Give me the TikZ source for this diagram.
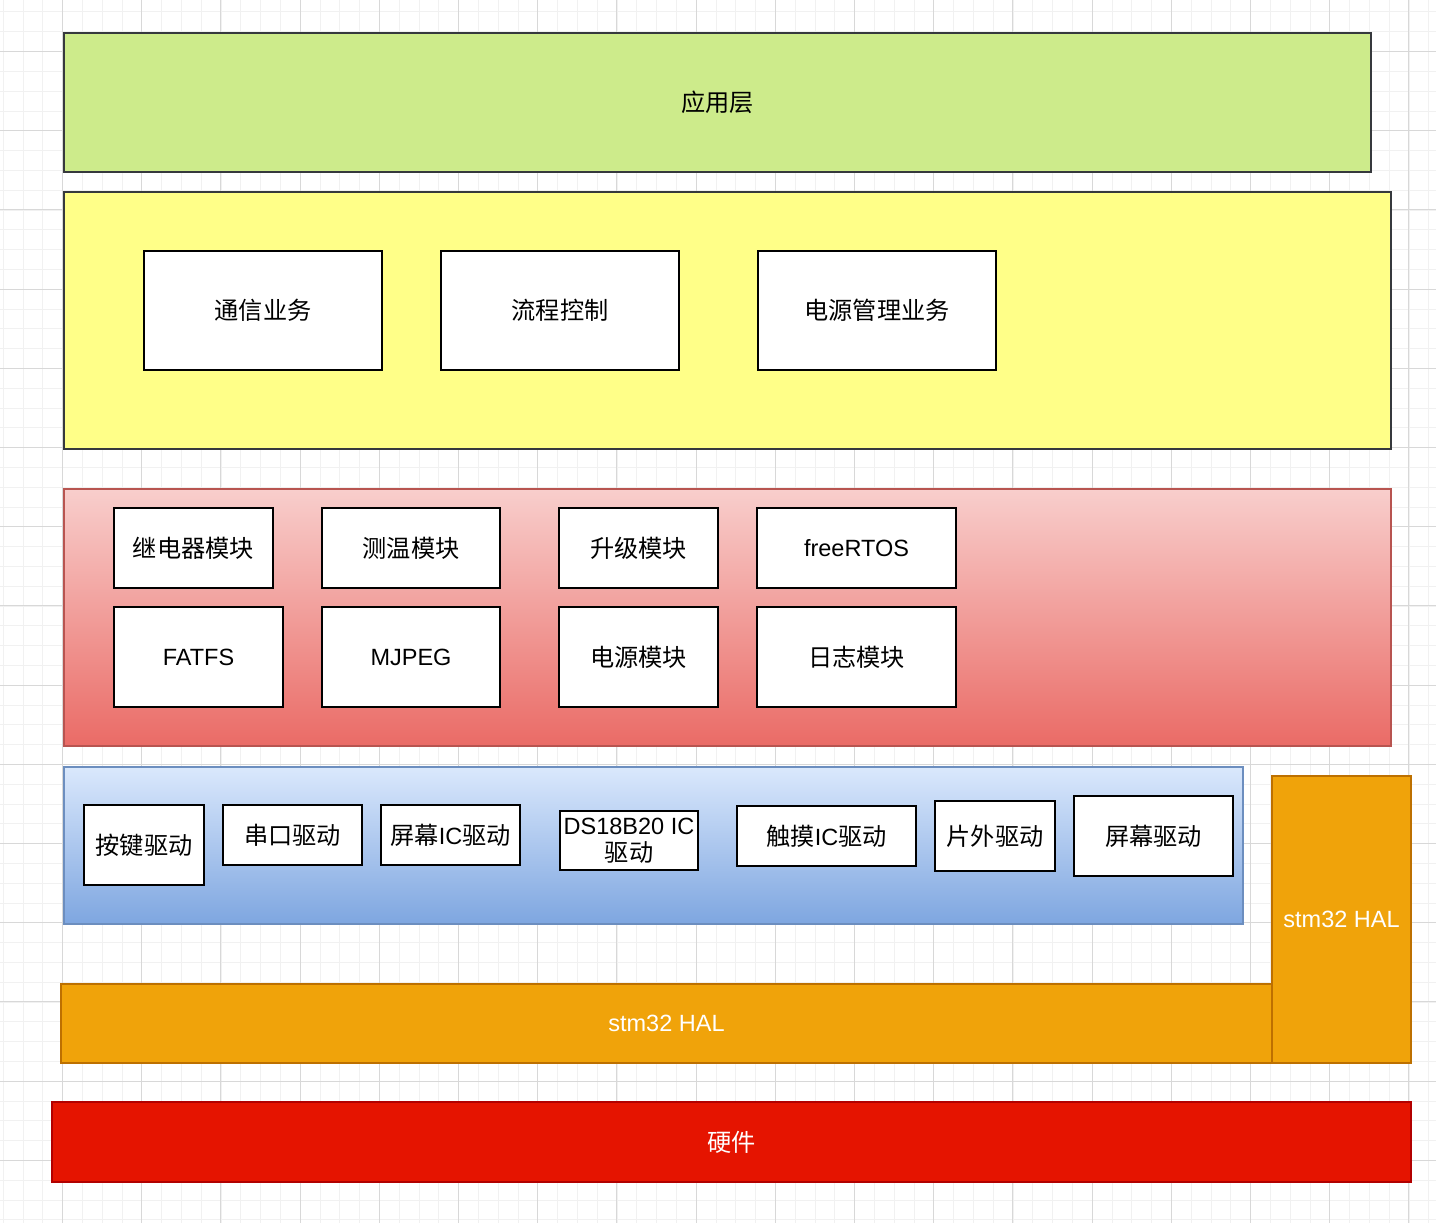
\documentclass[tikz,border=0pt]{standalone}
\usepackage{fontspec}
\setmainfont{Liberation Sans}
\newfontfamily\cjk[Scale=1.03]{Noto Sans CJK SC}
\newfontfamily\lat{Liberation Sans}
\newcommand\fsz{\fontsize{23.5}{27}\selectfont}
\definecolor{gridmaj}{HTML}{D8D8D8}
\definecolor{gridmin}{HTML}{F1F1F1}
\definecolor{appfill}{HTML}{CDEB8B}
\definecolor{darkstroke}{HTML}{36393D}
\definecolor{yelfill}{HTML}{FFFF88}
\definecolor{redtop}{HTML}{F8CECC}
\definecolor{redbot}{HTML}{EA6B66}
\definecolor{redstroke}{HTML}{B85450}
\definecolor{bluetop}{HTML}{DAE8FC}
\definecolor{bluebot}{HTML}{7EA6E0}
\definecolor{bluestroke}{HTML}{6C8EBF}
\definecolor{orgfill}{HTML}{F0A30A}
\definecolor{orgstroke}{HTML}{BD7000}
\definecolor{hwfill}{HTML}{E51400}
\definecolor{hwstroke}{HTML}{B20000}
\begin{document}
\begin{tikzpicture}[x=1pt,y=-1pt,
  every node/.style={inner sep=0pt, outer sep=0pt, font=\cjk\fsz},
  layer/.style={draw, line width=1.5pt},
  wbox/.style={draw=black, fill=white, line width=1.7pt, text=black},
  whitetext/.style={text=white}]
\useasboundingbox (0,0) rectangle (1436,1223);
\fill[white] (0,0) rectangle (1436,1223);
\begin{scope}
\clip (0,0) rectangle (1436,1223);
\foreach \i in {-4,...,70} {\draw[gridmin, line width=0.8pt] ({62.5+19.8*\i},0) -- ({62.5+19.8*\i},1223);}
\foreach \j in {-3,...,60} {\draw[gridmin, line width=0.8pt] (0,{51.5+19.8*\j}) -- (1436,{51.5+19.8*\j});}
\foreach \i in {-1,...,18} {\draw[gridmaj, line width=0.9pt] ({62.5+79.2*\i},0) -- ({62.5+79.2*\i},1223);}
\foreach \j in {-1,...,15} {\draw[gridmaj, line width=0.9pt] (0,{51.5+79.2*\j}) -- (1436,{51.5+79.2*\j});}
\end{scope}

% application layer
\node[layer, draw=darkstroke, fill=appfill, minimum width=1307, minimum height=139] (app) at (717.5,102.5) {应用层};

% business layer
\node[layer, draw=darkstroke, fill=yelfill, minimum width=1327, minimum height=257] (biz) at (727.5,320.5) {};
\node[wbox, minimum width=238, minimum height=119] (comm) at (263,310.5) {通信业务};
\node[wbox, minimum width=238, minimum height=119] (flow) at (560,310.5) {流程控制};
\node[wbox, minimum width=238, minimum height=119] (pwrbiz) at (877,310.5) {电源管理业务};

% module layer
\node[layer, draw=redstroke, top color=redtop, bottom color=redbot, minimum width=1327, minimum height=257] (mods) at (727.5,617.5) {};
\node[wbox, minimum width=159, minimum height=80] (relay) at (193.5,548) {继电器模块};
\node[wbox, minimum width=178, minimum height=80] (temp) at (411,548) {测温模块};
\node[wbox, minimum width=159, minimum height=80] (upg) at (638.5,548) {升级模块};
\node[wbox, minimum width=199, minimum height=80, font=\lat\fsz] (rtos) at (856.5,548) {freeRTOS};
\node[wbox, minimum width=169, minimum height=100, font=\lat\fsz] (fatfs) at (198.5,657) {FATFS};
\node[wbox, minimum width=178, minimum height=100, font=\lat\fsz] (mjpeg) at (411,657) {MJPEG};
\node[wbox, minimum width=159, minimum height=100] (pwrmod) at (638.5,657) {电源模块};
\node[wbox, minimum width=199, minimum height=100] (logmod) at (856.5,657) {日志模块};

% driver layer
\node[layer, draw=bluestroke, top color=bluetop, bottom color=bluebot, minimum width=1179, minimum height=157] (drv) at (653.5,845.5) {};
\node[wbox, minimum width=120, minimum height=80] (key) at (144,845) {按键驱动};
\node[wbox, minimum width=139, minimum height=60] (uart) at (292.5,835) {串口驱动};
\node[wbox, minimum width=139, minimum height=60] (lcdic) at (450.5,835) {屏幕{\lat IC}驱动};
\node[wbox, minimum width=138, minimum height=59, align=center] (ds) at (629,840.5) {{\lat DS18B20 IC}\\驱动};
\node[wbox, minimum width=179, minimum height=60] (touch) at (826.5,836) {触摸{\lat IC}驱动};
\node[wbox, minimum width=120, minimum height=70] (ext) at (995,836) {片外驱动};
\node[wbox, minimum width=159, minimum height=80] (lcd) at (1153.5,836) {屏幕驱动};

% HAL
\node[layer, draw=orgstroke, fill=orgfill, whitetext, font=\lat\fsz, minimum width=1211, minimum height=79] (halh) at (666.5,1023.5) {stm32 HAL};
\node[layer, draw=orgstroke, fill=orgfill, whitetext, font=\lat\fsz, minimum width=139, minimum height=287] (halv) at (1341.5,919.5) {stm32 HAL};

% hardware
\node[layer, draw=hwstroke, fill=hwfill, whitetext, minimum width=1359, minimum height=80] (hw) at (731.5,1142) {硬件};
\end{tikzpicture}
\end{document}
